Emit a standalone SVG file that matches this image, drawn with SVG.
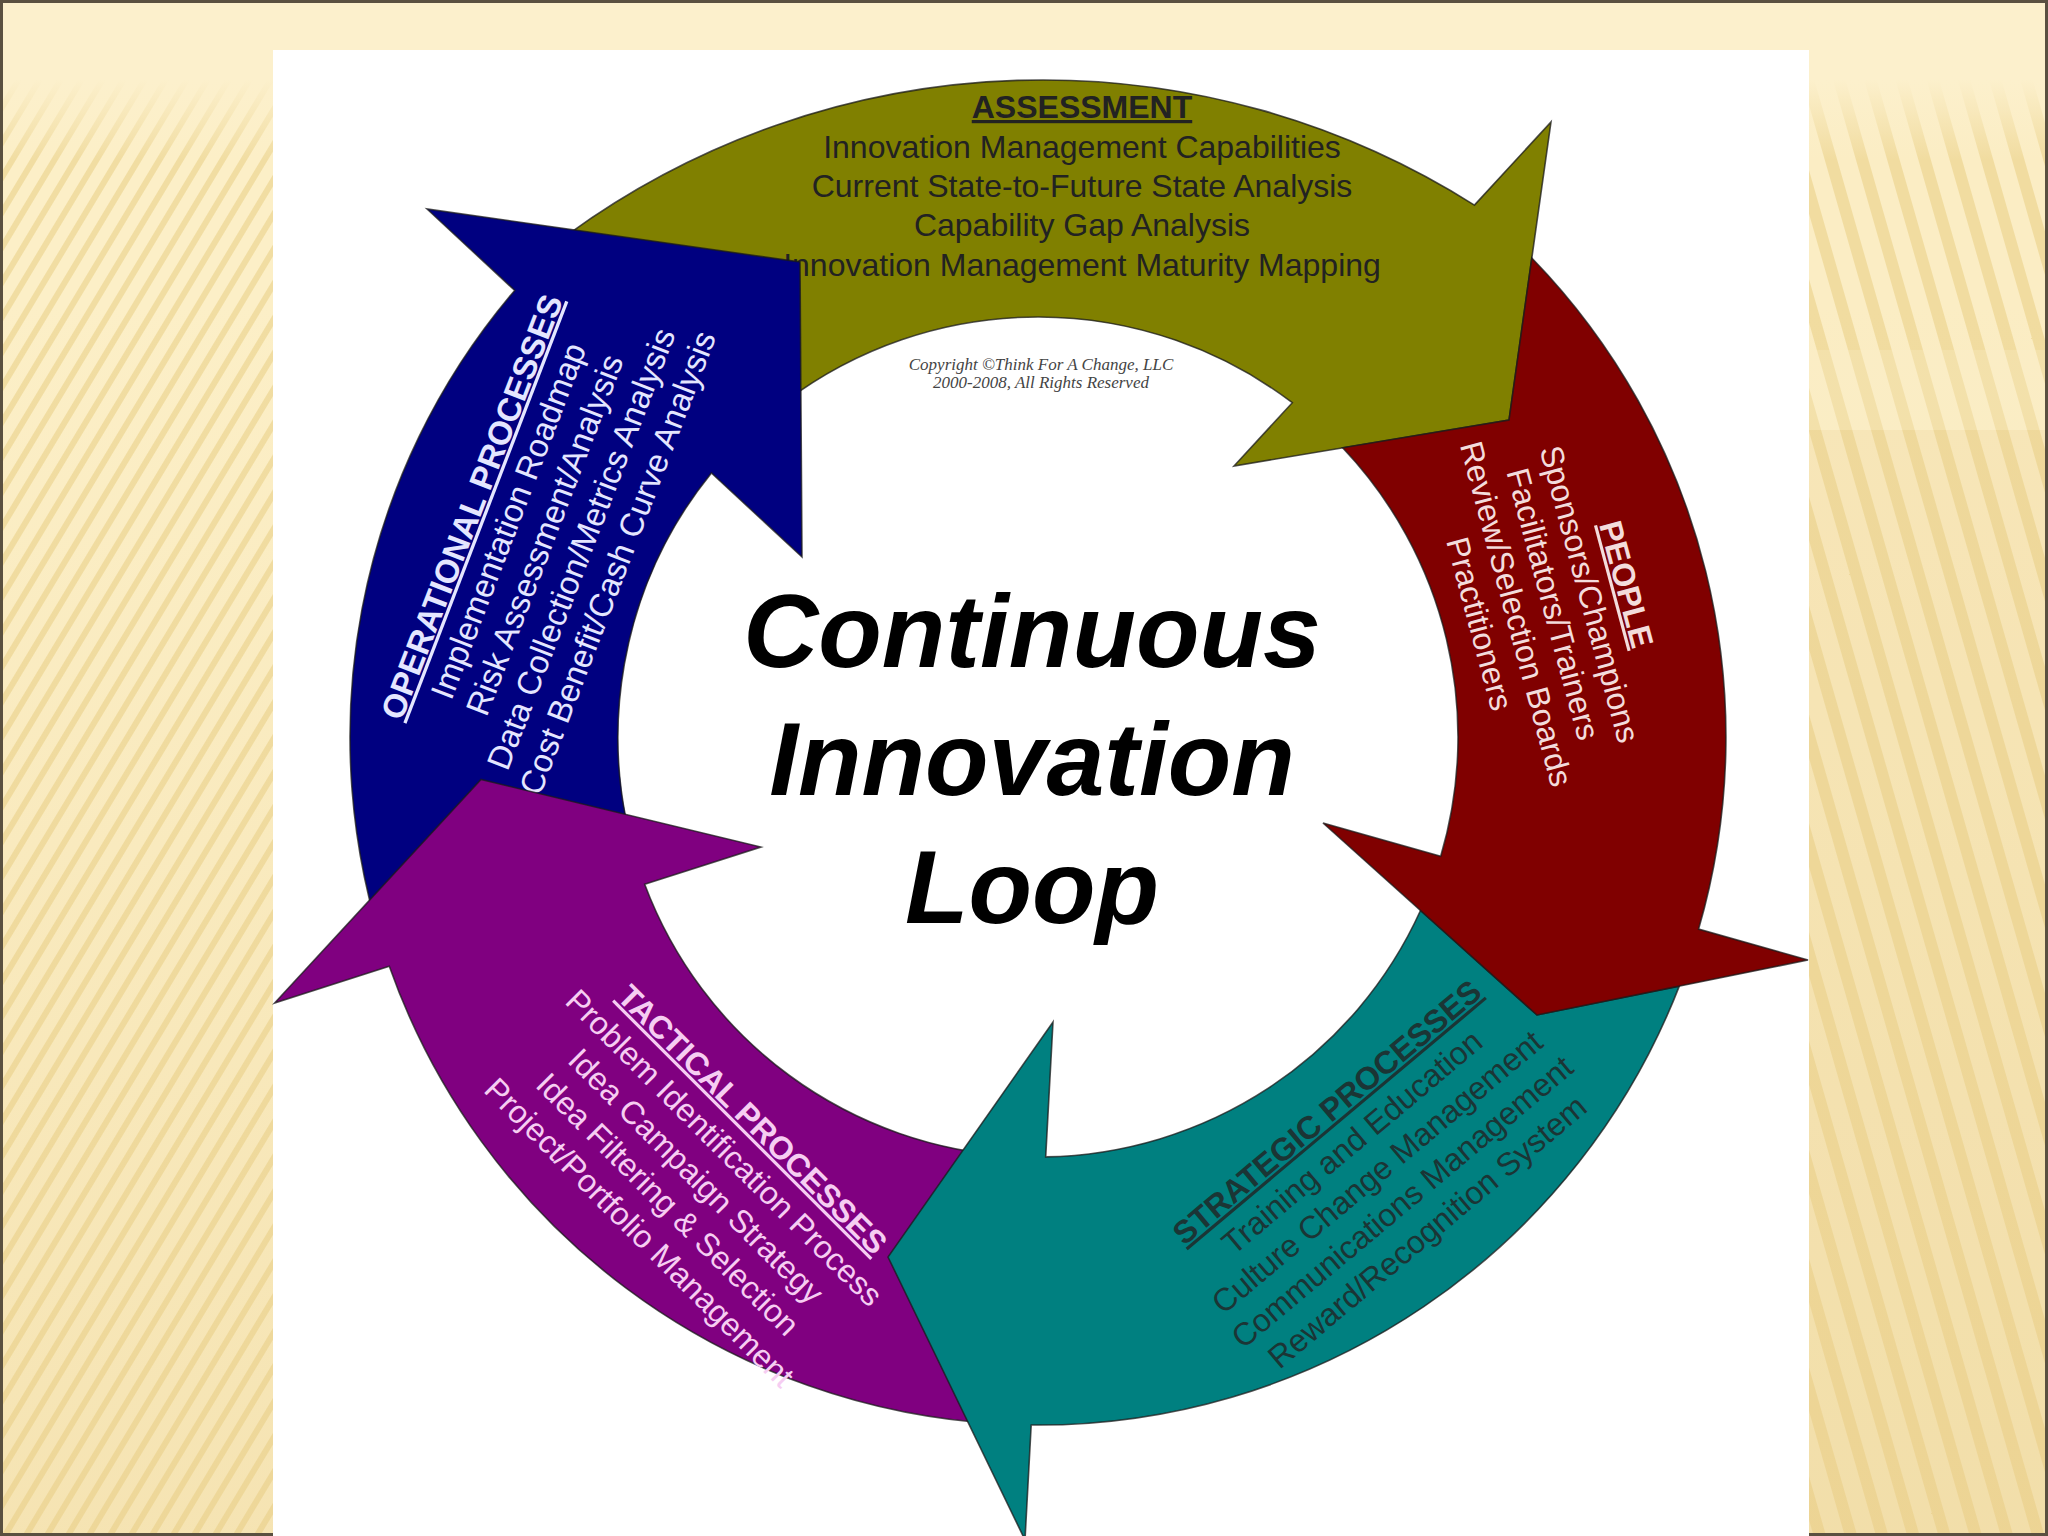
<svg xmlns="http://www.w3.org/2000/svg" width="2048" height="1536" viewBox="0 0 2048 1536">
  <defs>
    <style>
      .t { font-family: "Liberation Sans", Arial, sans-serif; font-size: 32px; text-anchor: middle; }
      .h { font-weight: bold; text-decoration: underline; }
      .arrow { stroke: #1a1a1a; stroke-width: 1.6; stroke-opacity: 0.75; stroke-linejoin: miter; }
      .title { font-family: "Liberation Sans", Arial, sans-serif; font-size: 104px; font-weight: bold; font-style: italic; text-anchor: middle; fill: #000; }
    </style>
    <pattern id="stripesL" width="18" height="18" patternUnits="userSpaceOnUse" patternTransform="rotate(31)">
      <rect width="18" height="18" fill="#FCEFC7"/>
      <rect width="6" height="18" fill="#F1DDA2"/>
    </pattern>
    <pattern id="stripesR" width="30" height="30" patternUnits="userSpaceOnUse" patternTransform="rotate(-16)">
      <rect width="30" height="30" fill="#FBEDC4"/>
      <rect width="12" height="30" fill="#F1DCA0"/>
    </pattern>
    <linearGradient id="fadeTop" x1="0" y1="0" x2="0" y2="1">
      <stop offset="0" stop-color="#FCF0CC" stop-opacity="1"/>
      <stop offset="0.5" stop-color="#FCF0CC" stop-opacity="1"/>
      <stop offset="1" stop-color="#FCF0CC" stop-opacity="0"/>
    </linearGradient>
    <linearGradient id="deepen" x1="0" y1="0" x2="0" y2="1">
      <stop offset="0" stop-color="#E6C983" stop-opacity="0"/>
      <stop offset="1" stop-color="#E6C983" stop-opacity="0.3"/>
    </linearGradient>
  </defs>

  <!-- slide background -->
  <rect x="0" y="0" width="2048" height="1536" fill="#FCF0CC"/>
  <rect x="0" y="60" width="275" height="1476" fill="url(#stripesL)"/>
  <rect x="1808" y="60" width="240" height="1476" fill="url(#stripesR)"/>
  <rect x="0" y="0" width="2048" height="160" fill="url(#fadeTop)"/>
  <rect x="0" y="300" width="2048" height="1236" fill="url(#deepen)"/>
  <rect x="1808" y="350" width="240" height="80" fill="#FCF0CC" fill-opacity="0.25"/>
  <rect x="1808" y="430" width="240" height="1106" fill="#E8CF8A" fill-opacity="0.18"/>
  <rect x="1.5" y="1.5" width="2045" height="1533" fill="none" stroke="#5a5040" stroke-width="3"/>

  <!-- white picture area -->
  <rect x="273" y="50" width="1536" height="1486" fill="#FFFFFF"/>

  <g id="connectors"/>

  <!-- ASSESSMENT (olive) -->
  <g id="assessment">
    <path class="arrow" fill="#808000" d="M 568.8,233.8 A 807 807 0 0 1 1474.4,205.1 L 1551,122 L 1509,420 L 1234,466 L 1292.3,402.7 A 420 420 0 0 0 785.2,401.6 Z"/>
    <g fill="#222222">
      <text class="t h" x="1082" y="118">ASSESSMENT</text>
      <text class="t" x="1082" y="158">Innovation Management Capabilities</text>
      <text class="t" x="1082" y="197">Current State-to-Future State Analysis</text>
      <text class="t" x="1082" y="236">Capability Gap Analysis</text>
      <text class="t" x="1082" y="276">Innovation Management Maturity Mapping</text>
    </g>
  </g>

  <!-- OPERATIONAL PROCESSES (blue) -->
  <g id="operational">
    <path class="arrow" fill="#000080" d="M 387.5,961 A 688 688 0 0 1 514.7,290.4 L 427,209 L 800,262 L 802,557 L 711.4,472.9 A 420 420 0 0 0 640.9,873.7 Z"/>
    <g transform="translate(545,535) rotate(-69)" fill="#E4E6FF">
      <text class="t h" x="0" y="-67" style="font-size:33px">OPERATIONAL PROCESSES</text>
      <text class="t" x="0" y="-28" style="font-size:33px">Implementation Roadmap</text>
      <text class="t" x="0" y="11" style="font-size:33px">Risk Assessment/Analysis</text>
      <text class="t" x="0" y="50" style="font-size:33px">Data Collection/Metrics Analysis</text>
      <text class="t" x="0" y="89" style="font-size:33px">Cost Benefit/Cash Curve Analysis</text>
    </g>
  </g>

  <!-- TACTICAL PROCESSES (purple) -->
  <g id="tactical">
    <path class="arrow" fill="#800080" d="M 1002,1424.1 A 688 688 0 0 1 389.3,966.2 L 274.6,1003 L 481,779.5 L 761,847 L 644.7,884.3 A 420 420 0 0 0 1016,1156.4 Z"/>
    <g transform="translate(696,1176) rotate(45)" fill="#F6CDF2">
      <text class="t h" x="0" y="-69">TACTICAL PROCESSES</text>
      <text class="t" x="0" y="-29">Problem Identification Process</text>
      <text class="t" x="0" y="11">Idea Campaign Strategy</text>
      <text class="t" x="0" y="51">Idea Filtering &amp; Selection</text>
      <text class="t" x="0" y="91">Project/Portfolio Management</text>
    </g>
  </g>

  <!-- STRATEGIC PROCESSES (teal) -->
  <g id="strategic">
    <path class="arrow" fill="#008080" d="M 1031.2,1425 L 1025,1540 L 888,1257 L 1053,1022 L 1045.7,1156.9 A 420 420 0 0 0 1420.5,910.5 L 1537,1015 L 1679.3,986.1 A 688 688 0 0 1 1031.2,1425 Z"/>
    <g transform="translate(1377,1172) rotate(-40)" fill="#1B3535">
      <text class="t h" x="0" y="-67">STRATEGIC PROCESSES</text>
      <text class="t" x="0" y="-28">Training and Education</text>
      <text class="t" x="0" y="11">Culture Change Management</text>
      <text class="t" x="0" y="50">Communications Management</text>
      <text class="t" x="0" y="89">Reward/Recognition System</text>
    </g>
  </g>

  <!-- PEOPLE (maroon) -->
  <g id="people">
    <path class="arrow" fill="#800000" d="M 1342.6,447.8 L 1509,420 L 1531.8,258 A 688 688 0 0 1 1698.6,929.1 L 1808,960 L 1537,1015 L 1323,823 L 1440.7,856.3 A 420 420 0 0 0 1342.6,447.8 Z"/>
    <g transform="translate(1553,604) rotate(75)" fill="#F3DCDC">
      <text class="t h" x="0" y="-65">PEOPLE</text>
      <text class="t" x="0" y="-27">Sponsors/Champions</text>
      <text class="t" x="0" y="11">Facilitators/Trainers</text>
      <text class="t" x="0" y="49">Review/Selection Boards</text>
      <text class="t" x="0" y="87">Practitioners</text>
    </g>
  </g>

  <!-- copyright note -->
  <g id="copyright" fill="#444444" style="font-family:'Liberation Serif','Times New Roman',serif; font-style:italic; font-size:17px; text-anchor:middle">
    <text x="1041" y="370">Copyright ©Think For A Change, LLC</text>
    <text x="1041" y="388">2000-2008, All Rights Reserved</text>
  </g>

  <!-- centre title -->
  <g id="title">
    <text class="title" x="1032" y="667">Continuous</text>
    <text class="title" x="1032" y="795">Innovation</text>
    <text class="title" x="1032" y="923">Loop</text>
  </g>
</svg>
